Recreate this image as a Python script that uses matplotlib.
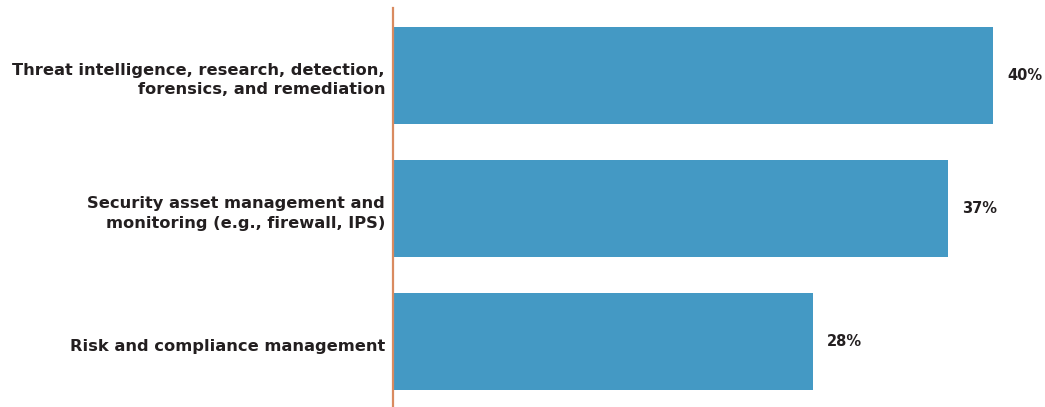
import matplotlib
matplotlib.use("Agg")
import matplotlib.pyplot as plt
from matplotlib.transforms import blended_transform_factory, ScaledTranslation

categories = [
    "Threat intelligence, research, detection,\nforensics, and remediation",
    "Security asset management and\nmonitoring (e.g., firewall, IPS)",
    "Risk and compliance management",
]
values = [40, 37, 28]
value_labels = ["40%", "37%", "28%"]

bar_color = "#4499c4"
axis_color = "#d98b60"
text_color = "#231f20"

plt.rcParams["font.family"] = ["DejaVu Sans"]

fig = plt.figure(figsize=(10.45, 4.07), dpi=100)
ax = fig.add_axes([393 / 1045, 0, 652 / 1045, 399 / 407])

pos = list(range(len(categories)))
ax.barh(pos, values, height=0.73, color=bar_color, zorder=2)
ax.set_xlim(0, 652 / 15)
ax.set_ylim(2.49, -0.506)

for spine in ["top", "right", "bottom"]:
    ax.spines[spine].set_visible(False)
ax.spines["left"].set_color(axis_color)
ax.spines["left"].set_linewidth(1.6)
ax.spines["left"].set_zorder(3)

ax.set_xticks([])
ax.set_yticks([])

# category labels, right-aligned just left of the axis line
label_tf = blended_transform_factory(ax.transAxes, ax.transData) + \
    ScaledTranslation(-8 / 100, -5 / 100, fig.dpi_scale_trans)
for p, cat in zip(pos, categories):
    ax.text(0, p, cat, transform=label_tf, ha="right", va="center",
            multialignment="right", fontsize=11.7, fontweight="bold",
            color=text_color, linespacing=1.35)

for p, v, lab in zip(pos, values, value_labels):
    ax.text(v + 0.95, p, lab, va="center", ha="left", fontsize=10.5,
            fontweight="bold", color=text_color)

fig.savefig("out.png", dpi=100)
